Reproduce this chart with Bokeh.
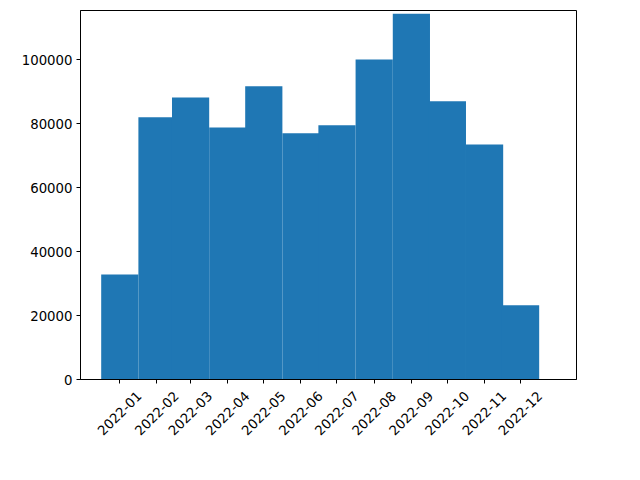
import math
from datetime import datetime, timedelta
from bokeh.plotting import figure
from bokeh.models import (ColumnDataSource, Range1d, FixedTicker, BasicTickFormatter, DatetimeAxis,
                          DatetimeTickFormatter, CustomJSTickFormatter)
from bokeh.embed import file_html
from bokeh.resources import INLINE

months = ["2022-01", "2022-02", "2022-03", "2022-04", "2022-05", "2022-06",
          "2022-07", "2022-08", "2022-09", "2022-10", "2022-11", "2022-12"]
counts = [32800, 82000, 88200, 78800, 91700, 77000,
          79500, 100100, 114400, 87000, 73500, 23200]
y_ticks = [0, 20000, 40000, 60000, 80000, 100000]

dates = [datetime.strptime(m + "-01", "%Y-%m-%d") for m in months]
DAY_MS = 24 * 3600 * 1000
bar_width = 31 * DAY_MS

src = ColumnDataSource(data=dict(x=dates, top=counts))

start = dates[0] - timedelta(days=32.75)
end = dates[0] + timedelta(days=380.6)
shift = timedelta(days=16)

p = figure(width=624, height=464, output_backend="svg", toolbar_location=None,
           x_axis_type="datetime",
           x_range=Range1d(start, end), y_range=Range1d(0, 115400),
           frame_width=496, frame_height=369,
           min_border_left=80, min_border_top=10, min_border_right=48, min_border_bottom=85)
p.extra_x_ranges = {"lbl": Range1d(start - shift, end - shift)}

p.vbar(x="x", top="top", width=bar_width, source=src, fill_color="#1f77b4", line_color=None)

epoch = datetime(1970, 1, 1)
tick_ms = [(d - epoch).total_seconds() * 1000 for d in dates]
p.xaxis.ticker = FixedTicker(ticks=tick_ms)
p.xaxis.formatter = CustomJSTickFormatter(code="return '';")
p.yaxis.ticker = FixedTicker(ticks=y_ticks)
p.yaxis.formatter = BasicTickFormatter(use_scientific=False)

for ax in [p.xaxis[0], p.yaxis[0]]:
    ax.major_tick_out = 4
    ax.major_tick_in = 0
    ax.minor_tick_out = 0
    ax.minor_tick_in = 0
    ax.axis_line_color = "black"
    ax.major_tick_line_color = "black"
    ax.major_label_text_font = "DejaVu Sans"
    ax.major_label_text_color = "black"
    ax.major_label_standoff = 4
    ax.major_label_text_font_size = "13.3px"
p.xaxis.major_label_standoff = 0

fmt = "%Y-%m"
lbl_axis = DatetimeAxis(x_range_name="lbl", ticker=FixedTicker(ticks=tick_ms),
                        formatter=DatetimeTickFormatter(milliseconds=fmt, seconds=fmt, minsec=fmt, minutes=fmt,
                                                        hourmin=fmt, hours=fmt, days=fmt, months=fmt, years=fmt),
                        major_label_orientation=math.pi / 4,
                        major_label_text_font="DejaVu Sans", major_label_text_font_size="13.3px",
                        major_label_text_color="black", major_label_standoff=4,
                        axis_line_color=None, major_tick_line_color=None, minor_tick_line_color=None)
p.add_layout(lbl_axis, "below")

p.xgrid.visible = False
p.ygrid.visible = False
p.outline_line_color = "black"
p.outline_line_alpha = 1
p.outline_line_width = 1
p.background_fill_color = "white"
p.border_fill_color = "white"

open("out.html", "w").write(file_html(p, INLINE))
